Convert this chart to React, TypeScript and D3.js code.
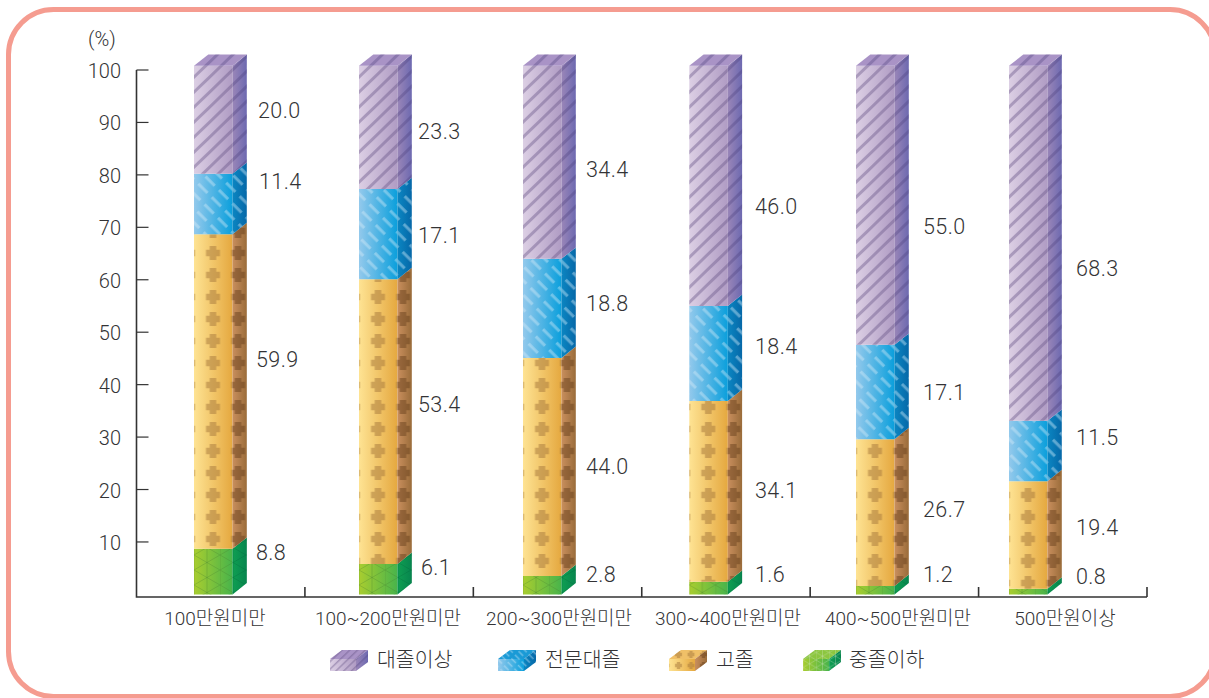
import React from "react";
import * as d3 from "d3";

// ---- data ----
const categories = ["100만원미만", "100~200만원미만", "200~300만원미만", "300~400만원미만", "400~500만원미만", "500만원이상"];
const seriesNames = ["중졸이하", "고졸", "전문대졸", "대졸이상"];
const labelsMiddle = ["8.8", "6.1", "2.8", "1.6", "1.2", "0.8"];
const labelsHigh = ["59.9", "53.4", "44.0", "34.1", "26.7", "19.4"];
const labelsCollege = ["11.4", "17.1", "18.8", "18.4", "17.1", "11.5"];
const labelsUniv = ["20.0", "23.3", "34.4", "46.0", "55.0", "68.3"];
// heights as actually drawn in the picture, read against the axis
const drawnMiddle = [8.7, 5.8, 3.5, 2.4, 1.6, 1.1];
const drawnHigh = [60.0, 54.3, 41.6, 34.5, 28.0, 20.5];
const drawnCollege = [11.5, 17.2, 18.9, 18.1, 18.0, 11.5];
const drawnUniv = [20.6, 23.5, 36.8, 45.8, 53.2, 67.7];
const yTicks = [10, 20, 30, 40, 50, 60, 70, 80, 90, 100];
const legendOrder = ["대졸이상", "전문대졸", "고졸", "중졸이하"];

// ---- layout (separate from the data) ----
const W = 1209, H = 698;
const axisX = 136.5, axisEnd = 1147, axisY = 597;
const barLeft = [194, 359, 523, 689.3, 856, 1009];
const barW = 38.5, depthX = 14.3, depthY = 11.4;
const catCenter = [215, 388, 559, 728, 898, 1065];
const labelX = [
  [256, 256, 259, 258],
  [421, 418, 418, 418],
  [586, 586, 586, 586],
  [755, 755, 755, 755],
  [923, 923, 923, 923],
  [1076, 1076, 1076, 1076],
];
const labelBase = [
  [560, 367, 189, 118],
  [575, 412, 243, 139],
  [582, 474, 311, 177],
  [582, 498, 354, 214],
  [582, 517, 400, 234],
  [584, 535, 445, 276],
];
const legendSwatchX = [330, 498, 669, 803];
const legendTextX = [377, 545, 716, 849];

const LATIN = 'Roboto, "Liberation Sans", "Noto Sans CJK KR", sans-serif';
const TEXT = "#333335";

const colors: Record<string, { f: [string, string]; s: [string, string]; t: string; key: string }> = {
  "대졸이상": { f: ["#dccfe4", "#b09cc4"], s: ["#9a86b8", "#6d69b0"], t: "#a993c6", key: "u" },
  "전문대졸": { f: ["#93c9ec", "#0a9fdc"], s: ["#0b86c2", "#0668a8"], t: "#1a9ad6", key: "c" },
  "고졸": { f: ["#fee393", "#e5a83f"], s: ["#c98f5e", "#9a6c3a"], t: "#f0c068", key: "h" },
  "중졸이하": { f: ["#a9cd2f", "#48b44b"], s: ["#0f9f52", "#07854e"], t: "#8cc63f", key: "m" },
};

const y = d3.scaleLinear().domain([0, 100]).range([594.4, 70]);
const x = d3.scaleBand<string>().domain(categories).range([axisX, axisEnd]).padding(0);
const poly = d3.line<[number, number]>().curve(d3.curveLinearClosed);

const rows = categories.map((c, i) => ({
  c,
  "중졸이하": drawnMiddle[i],
  "고졸": drawnHigh[i],
  "전문대졸": drawnCollege[i],
  "대졸이상": drawnUniv[i],
}));
const stacked = d3.stack<any>().keys(seriesNames)(rows);
const labelRows = [labelsMiddle, labelsHigh, labelsCollege, labelsUniv];

function Patterns({ suffix, scale }: { suffix: string; scale: number }) {
  const t = `scale(${scale})`;
  const plusTile = (id: string, fill: string) => (
    <pattern id={id} patternUnits="userSpaceOnUse" width={25} height={22} patternTransform={`${t} translate(6.5 0)`}>
      <path fill={fill} d="M9.2 4h6.6v3.7h3.7v6.6h-3.7v3.7H9.2v-3.7H5.5V7.7h3.7z" />
    </pattern>
  );
  const stripe = (id: string, col: string) => (
    <pattern id={id} patternUnits="userSpaceOnUse" width={10.8} height={10.8} patternTransform={`${t} rotate(-44)`}>
      <rect x={0} y={0} width={10.8} height={3} fill={col} />
    </pattern>
  );
  const dash = (id: string, col: string) => (
    <pattern id={id} patternUnits="userSpaceOnUse" width={19} height={10.2} patternTransform={`${t} rotate(45)`}>
      <rect x={0} y={3} width={13} height={3} fill={col} />
    </pattern>
  );
  const tri = (id: string, col: string) => (
    <pattern id={id} patternUnits="userSpaceOnUse" width={26} height={15} patternTransform={t}>
      <path d="M0 0V15M13 0V15M0 0L26 15M0 15L26 0" stroke={col} strokeWidth={0.8} fill="none" />
    </pattern>
  );
  return (
    <>
      {stripe(`uf${suffix}`, "rgba(105,85,135,0.42)")}
      {stripe(`us${suffix}`, "rgba(70,60,120,0.32)")}
      {dash(`cf${suffix}`, "rgba(215,235,248,0.42)")}
      {dash(`cs${suffix}`, "rgba(190,225,245,0.48)")}
      {plusTile(`hf${suffix}`, "rgba(165,120,60,0.5)")}
      {plusTile(`hs${suffix}`, "rgba(105,65,30,0.5)")}
      {tri(`mf${suffix}`, suffix ? "rgba(225,235,215,0.7)" : "rgba(65,125,45,0.35)")}
      {tri(`ms${suffix}`, suffix ? "rgba(225,235,215,0.7)" : "rgba(0,90,50,0.3)")}
    </>
  );
}

function Face({ pts, grad, pat, solid }: { pts: [number, number][]; grad?: string; pat: string; solid?: string }) {
  const d = poly(pts) as string;
  return (
    <>
      <path d={d} fill={solid ?? `url(#${grad})`} />
      <path d={d} fill={`url(#${pat})`} />
    </>
  );
}

export default function App() {
  return (
    <svg
      width={W}
      height={H}
      viewBox={`0 0 ${W} ${H}`}
      style={{ position: "absolute", left: 0, top: 0, display: "block", background: "#fff" }}
    >
      <defs>
        {seriesNames.map((n) => (
          <React.Fragment key={n}>
            <linearGradient id={`${colors[n].key}gf`} x1="0" x2="1" y1="0" y2="0">
              <stop offset="0" stopColor={colors[n].f[0]} />
              <stop offset="1" stopColor={colors[n].f[1]} />
            </linearGradient>
            <linearGradient id={`${colors[n].key}gs`} x1="0" x2="1" y1="0" y2="0">
              <stop offset="0" stopColor={colors[n].s[0]} />
              <stop offset="1" stopColor={colors[n].s[1]} />
            </linearGradient>
          </React.Fragment>
        ))}
        <Patterns suffix="" scale={1} />
        <Patterns suffix="L" scale={0.5} />
      </defs>

      <rect x={8.5} y={9.5} width={1206.5} height={687} rx={45} ry={45} fill="#fff" stroke="#f59c90" strokeWidth={5} />

      {/* bars */}
      {categories.map((c, i) => (
        <g key={c} transform={`translate(${barLeft[i]},0)`}>
          {stacked.map((s, si) => {
            const n = seriesNames[si];
            const k = colors[n].key;
            const y0 = y(s[i][0]);
            const y1 = y(s[i][1]);
            return (
              <g key={n}>
                <Face pts={[[0, y0], [barW, y0], [barW, y1], [0, y1]]} grad={`${k}gf`} pat={`${k}f`} />
                <Face
                  pts={[[barW, y0], [barW + depthX, y0 - depthY], [barW + depthX, y1 - depthY], [barW, y1]]}
                  grad={`${k}gs`}
                  pat={`${k}s`}
                />
                {si === seriesNames.length - 1 && (
                  <Face
                    pts={[[0, y1], [depthX, y1 - depthY], [barW + depthX, y1 - depthY], [barW, y1]]}
                    solid={colors[n].t}
                    pat={`${k}s`}
                  />
                )}
              </g>
            );
          })}
        </g>
      ))}

      {/* value labels */}
      {categories.map((c, i) =>
        labelRows.map((row, si) => (
          <text
            key={`${c}-${si}`}
            x={labelX[i][si]}
            y={labelBase[i][si]}
            fontFamily={LATIN}
            fontWeight={300}
            fontSize={21.5}
            letterSpacing={0.4}
            fill={TEXT}
          >
            {row[i]}
          </text>
        ))
      )}

      {/* axes */}
      <g stroke="#333" strokeWidth={1.6} fill="none">
        <path d={`M${axisX} ${y(100)}V${axisY}H${axisEnd}`} />
        {yTicks.map((t) => (
          <path key={t} d={`M${axisX} ${y(t)}H${axisX + 12}`} strokeWidth={1.2} />
        ))}
        {categories.map((c) => (
          <path key={c} d={`M${(x(c) as number) + x.bandwidth()} ${axisY}V${axisY - 10}`} />
        ))}
      </g>
      {yTicks.map((t) => (
        <text key={t} x={121} y={y(t) + 8} textAnchor="end" fontFamily={LATIN} fontWeight={300} fontSize={20} fill={TEXT}>
          {t}
        </text>
      ))}
      <text x={88} y={46} fontFamily={LATIN} fontWeight={300} fontSize={20} fill={TEXT}>
        (%)
      </text>

      {/* categories */}
      {categories.map((c, i) => (
        <text key={c} x={catCenter[i]} y={625} textAnchor="middle" fontFamily={LATIN} fontWeight={300} fontSize={19} fill={TEXT}>
          {c}
        </text>
      ))}

      {/* legend */}
      {legendOrder.map((n, i) => {
        const k = colors[n].key;
        const sx = legendSwatchX[i];
        const fw = 26, dx = 12, dy = 9, top = 659, bot = 671;
        return (
          <g key={n}>
            <g transform={`translate(${sx},0)`}>
              <Face pts={[[0, bot], [fw, bot], [fw, top], [0, top]]} grad={`${k}gf`} pat={`${k}fL`} />
              <Face pts={[[0, top], [dx, top - dy], [fw + dx, top - dy], [fw, top]]} solid={colors[n].t} pat={`${k}fL`} />
              <Face pts={[[fw, bot], [fw + dx, bot - dy], [fw + dx, top - dy], [fw, top]]} grad={`${k}gs`} pat={`${k}sL`} />
            </g>
            <text x={legendTextX[i]} y={667} fontFamily={LATIN} fontWeight={300} fontSize={20.5} fill={TEXT}>
              {n}
            </text>
          </g>
        );
      })}
    </svg>
  );
}
